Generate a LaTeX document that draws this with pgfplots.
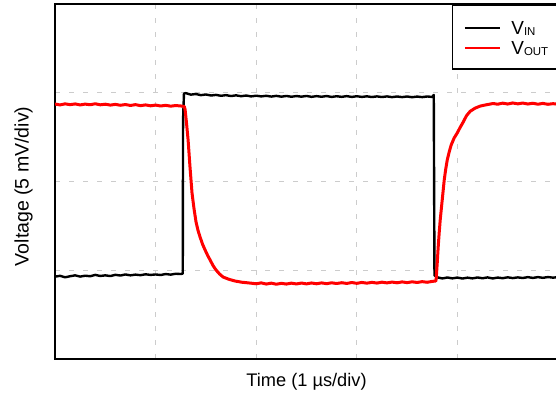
\documentclass[border=0pt]{standalone}
\usepackage{fontspec}
\setmainfont{Liberation Sans}
\usepackage{pgfplots}
\pgfplotsset{compat=1.18}
\begin{document}
\begin{tikzpicture}[x=1bp,y=1bp]
\begin{axis}[
  at={(55bp,39.3bp)}, anchor=south west,
  scale only axis, width=503bp, height=354.7bp,
  xmin=0, xmax=5, ymin=0, ymax=4,
  xtick={1,2,3,4}, ytick={1,2,3},
  xticklabels={}, yticklabels={},
  major tick length=0pt,
  grid=major,
  major grid style={gray!40, line width=0.7bp, dash pattern=on 5bp off 9bp},
  axis line style={line width=1.8bp},
  xlabel={Time (1 µs/div)},
  ylabel={Voltage (5 mV/div)},
  every axis x label/.style={at={(axis description cs:0.5,0)}, anchor=north, inner sep=0pt, yshift=-14bp, font=\fontsize{18.3}{20}\selectfont},
  every axis y label/.style={at={(axis description cs:0,0.486)}, xshift=-22bp, anchor=south, rotate=90, inner sep=0pt, font=\fontsize{19.6}{21}\selectfont},
  legend style={at={(rel axis cs:1,1)}, anchor=north east, draw=black, line width=1.6bp, fill=white,
    inner xsep=9bp, inner ysep=12bp, row sep=0pt,
    nodes={inner sep=0pt, text height=18bp, text depth=2bp, anchor=base west, font=\fontsize{19}{20}\selectfont},
    font=\fontsize{19}{20}\selectfont},
  legend cell align=left,
  legend image code/.code={\draw[#1, line width=2bp] (2bp,7bp) -- (37bp,7bp); \path (0bp,7bp) (47bp,7bp);},
]
\addplot[black, line width=2.4bp, line join=round] coordinates {
(0,0.925)(0.05,0.935)(0.1,0.918)(0.15,0.93)(0.2,0.94)(0.25,0.926)(0.3,0.936)(0.35,0.93)(0.4,0.945)(0.45,0.933)
(0.5,0.94)(0.55,0.932)(0.6,0.946)(0.65,0.938)(0.7,0.95)(0.75,0.94)(0.8,0.948)(0.85,0.942)(0.9,0.952)(0.95,0.945)
(1.0,0.95)(1.05,0.944)(1.1,0.955)(1.15,0.948)(1.2,0.958)(1.25,0.955)(1.27,0.96)
(1.273,2.7)(1.282,2.99)(1.3,2.995)(1.35,2.978)(1.4,2.985)(1.45,2.972)(1.5,2.98)(1.55,2.968)(1.6,2.975)(1.65,2.965)
(1.7,2.972)(1.75,2.962)(1.8,2.97)(1.85,2.96)(1.9,2.968)(1.95,2.958)(2.0,2.966)(2.05,2.958)(2.1,2.965)(2.15,2.956)
(2.2,2.964)(2.25,2.955)(2.3,2.963)(2.35,2.954)(2.4,2.962)(2.45,2.955)(2.5,2.963)(2.55,2.953)(2.6,2.961)(2.65,2.954)
(2.7,2.962)(2.75,2.952)(2.8,2.96)(2.85,2.953)(2.9,2.961)(2.95,2.952)(3.0,2.96)(3.05,2.952)(3.1,2.959)(3.15,2.951)
(3.2,2.958)(3.25,2.951)(3.3,2.958)(3.35,2.95)(3.4,2.957)(3.45,2.95)(3.5,2.957)(3.55,2.949)(3.6,2.956)(3.65,2.95)
(3.7,2.957)(3.75,2.952)(3.765,2.975)
(3.772,0.94)(3.8,0.918)(3.85,0.905)(3.9,0.916)(3.95,0.906)(4.0,0.915)(4.05,0.904)(4.1,0.914)(4.15,0.906)(4.2,0.916)
(4.25,0.907)(4.3,0.917)(4.35,0.905)(4.4,0.915)(4.45,0.908)(4.5,0.918)(4.55,0.909)(4.6,0.917)(4.65,0.91)(4.7,0.92)
(4.75,0.911)(4.8,0.92)(4.85,0.912)(4.9,0.921)(4.95,0.914)(5.0,0.92)
};
\addlegendentry{V\raisebox{-1bp}{\fontsize{11.5}{12}\selectfont IN}}
\addplot[red, line width=3bp, line join=round] coordinates {
(0,2.872)(0.05,2.862)(0.1,2.874)(0.15,2.865)(0.2,2.873)(0.25,2.862)(0.3,2.871)(0.35,2.864)(0.4,2.875)(0.45,2.863)
(0.5,2.87)(0.55,2.86)(0.6,2.868)(0.65,2.858)(0.7,2.866)(0.75,2.856)(0.8,2.865)(0.85,2.854)(0.9,2.862)(0.95,2.852)
(1.0,2.86)(1.05,2.85)(1.1,2.857)(1.15,2.848)(1.2,2.855)(1.25,2.85)(1.285,2.845)
(1.293,2.811)(1.308,2.65)(1.323,2.467)(1.342,2.16)(1.362,1.869)(1.382,1.69)(1.402,1.541)(1.422,1.445)(1.442,1.372)(1.467,1.29)
(1.492,1.226)(1.517,1.165)(1.542,1.113)(1.571,1.05)(1.601,1.0)(1.636,0.955)(1.671,0.921)(1.73,0.895)(1.79,0.876)(1.86,0.862)
(1.939,0.853)(2.0,0.845)(2.05,0.855)(2.1,0.842)(2.15,0.852)(2.2,0.84)(2.25,0.85)(2.3,0.842)(2.35,0.852)(2.4,0.843)
(2.45,0.853)(2.5,0.844)(2.55,0.854)(2.6,0.845)(2.65,0.855)(2.7,0.846)(2.75,0.856)(2.8,0.848)(2.85,0.857)(2.9,0.849)
(2.95,0.859)(3.0,0.85)(3.05,0.86)(3.1,0.852)(3.15,0.861)(3.2,0.853)(3.25,0.863)(3.3,0.855)(3.35,0.864)(3.4,0.856)
(3.45,0.866)(3.5,0.858)(3.55,0.867)(3.6,0.86)(3.65,0.869)(3.7,0.862)(3.75,0.872)(3.785,0.876)
(3.789,0.9)(3.799,1.07)(3.809,1.26)(3.819,1.42)(3.829,1.564)(3.849,1.79)(3.869,2.015)(3.884,2.14)(3.899,2.241)(3.918,2.33)
(3.938,2.41)(3.968,2.49)(3.998,2.545)(4.028,2.61)(4.058,2.669)(4.09,2.74)(4.127,2.79)(4.175,2.825)(4.227,2.849)(4.28,2.862)
(4.356,2.878)(4.4,2.87)(4.45,2.882)(4.5,2.872)(4.55,2.884)(4.6,2.874)(4.65,2.883)(4.7,2.872)(4.75,2.881)(4.8,2.87)
(4.85,2.879)(4.9,2.869)(4.95,2.876)(5.0,2.87)
};
\addlegendentry{V\raisebox{-1bp}{\fontsize{11.5}{12}\selectfont OUT}}
\end{axis}
\pgfresetboundingbox
\useasboundingbox (0,0) rectangle (556,398);
\end{tikzpicture}
\end{document}
